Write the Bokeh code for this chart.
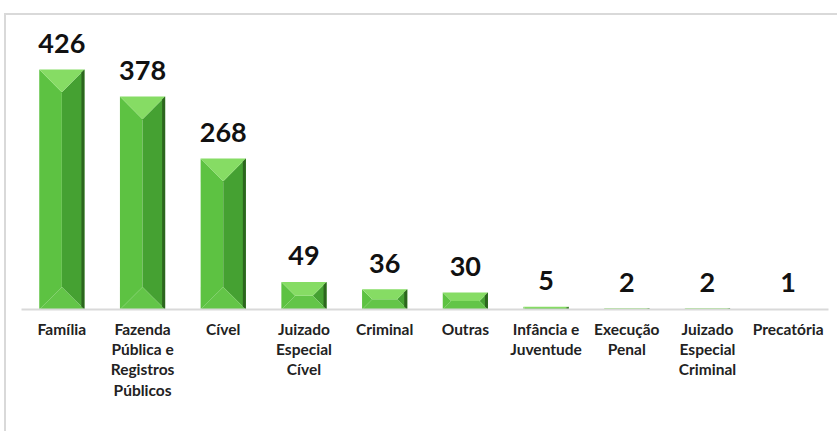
from bokeh.plotting import figure
from bokeh.models import FactorRange, ColumnDataSource
from bokeh.core.properties import value
from bokeh.embed import file_html
from bokeh.resources import INLINE

categories = ["Família", "Fazenda\nPública e\nRegistros\nPúblicos", "Cível",
              "Juizado\nEspecial\nCível", "Criminal", "Outras",
              "Infância e\nJuventude", "Execução\nPenal",
              "Juizado\nEspecial\nCriminal", "Precatória"]
values = [426, 378, 268, 49, 36, 30, 5, 2, 2, 1]
labels = [str(v) for v in values]

FW, FH = 807, 294
Y_END = 522
n = len(categories)
px_x = FW / n
py = FH / Y_END

p = figure(x_range=FactorRange(*categories, range_padding=0), y_range=(0, Y_END),
           frame_width=FW, frame_height=FH, min_border_left=15, min_border_right=9,
           min_border_top=0, min_border_bottom=122,
           output_backend="svg", toolbar_location=None)
p.styles = {"border-top": "2px solid #d9d9d9", "border-left": "2px solid #d9d9d9",
            "margin-top": "13px", "margin-left": "4px"}
p.outline_line_color = None
p.xgrid.grid_line_color = None
p.ygrid.grid_line_color = None
p.yaxis.visible = False

hw = 0.28
faces = {"top": ([], [], "#86dc64"), "bottom": ([], [], "#63c548"),
         "left": ([], [], "#5dc242"), "right": ([], [], "#45a132"),
         "edge": ([], [], "#2b631e")}
for i, v in enumerate(values):
    x0, x1 = i + 0.5 - hw, i + 0.5 + hw
    d = min(hw * px_x, v * py / 2)
    dx, dy = d / px_x, d / py
    faces["top"][0].append([x0, x1, x1 - dx, x0 + dx]); faces["top"][1].append([v, v, v - dy, v - dy])
    faces["bottom"][0].append([x0, x1, x1 - dx, x0 + dx]); faces["bottom"][1].append([0, 0, dy, dy])
    faces["left"][0].append([x0, x0, x0 + dx, x0 + dx]); faces["left"][1].append([0, v, v - dy, dy])
    faces["right"][0].append([x1, x1, x1 - dx, x1 - dx]); faces["right"][1].append([0, v, v - dy, dy])
    e = 3 / px_x
    ed = min(3, v * py / 2) / py
    faces["edge"][0].append([x1 - e, x1, x1, x1 - e]); faces["edge"][1].append([ed, 0, v, v - ed])

for key in ["left", "right", "bottom", "top", "edge"]:
    xs, ys, col = faces[key]
    p.patches(xs=xs, ys=ys, fill_color=col, line_color=None, fill_alpha=0.95 if key == "edge" else 1)

src = ColumnDataSource(dict(x=categories, y=values, t=labels))
p.text(x="x", y="y", text="t", source=src, y_offset=-26, text_align="center",
       text_baseline="alphabetic", text_font=value("Lato"), text_font_style="bold",
       text_font_size="27px", text_color="#111111")

ax = p.xaxis[0]
ax.axis_line_color = "#d9d9d9"
ax.axis_line_width = 2
ax.major_tick_line_color = None
ax.minor_tick_line_color = None
ax.major_label_standoff = 4
ax.major_label_text_font = "Lato"
ax.major_label_text_font_style = "bold"
ax.major_label_text_font_size = "15.5px"
ax.major_label_text_color = "#222222"
ax.major_label_text_line_height = 1.13

open("out.html", "w").write(file_html(p, INLINE))
